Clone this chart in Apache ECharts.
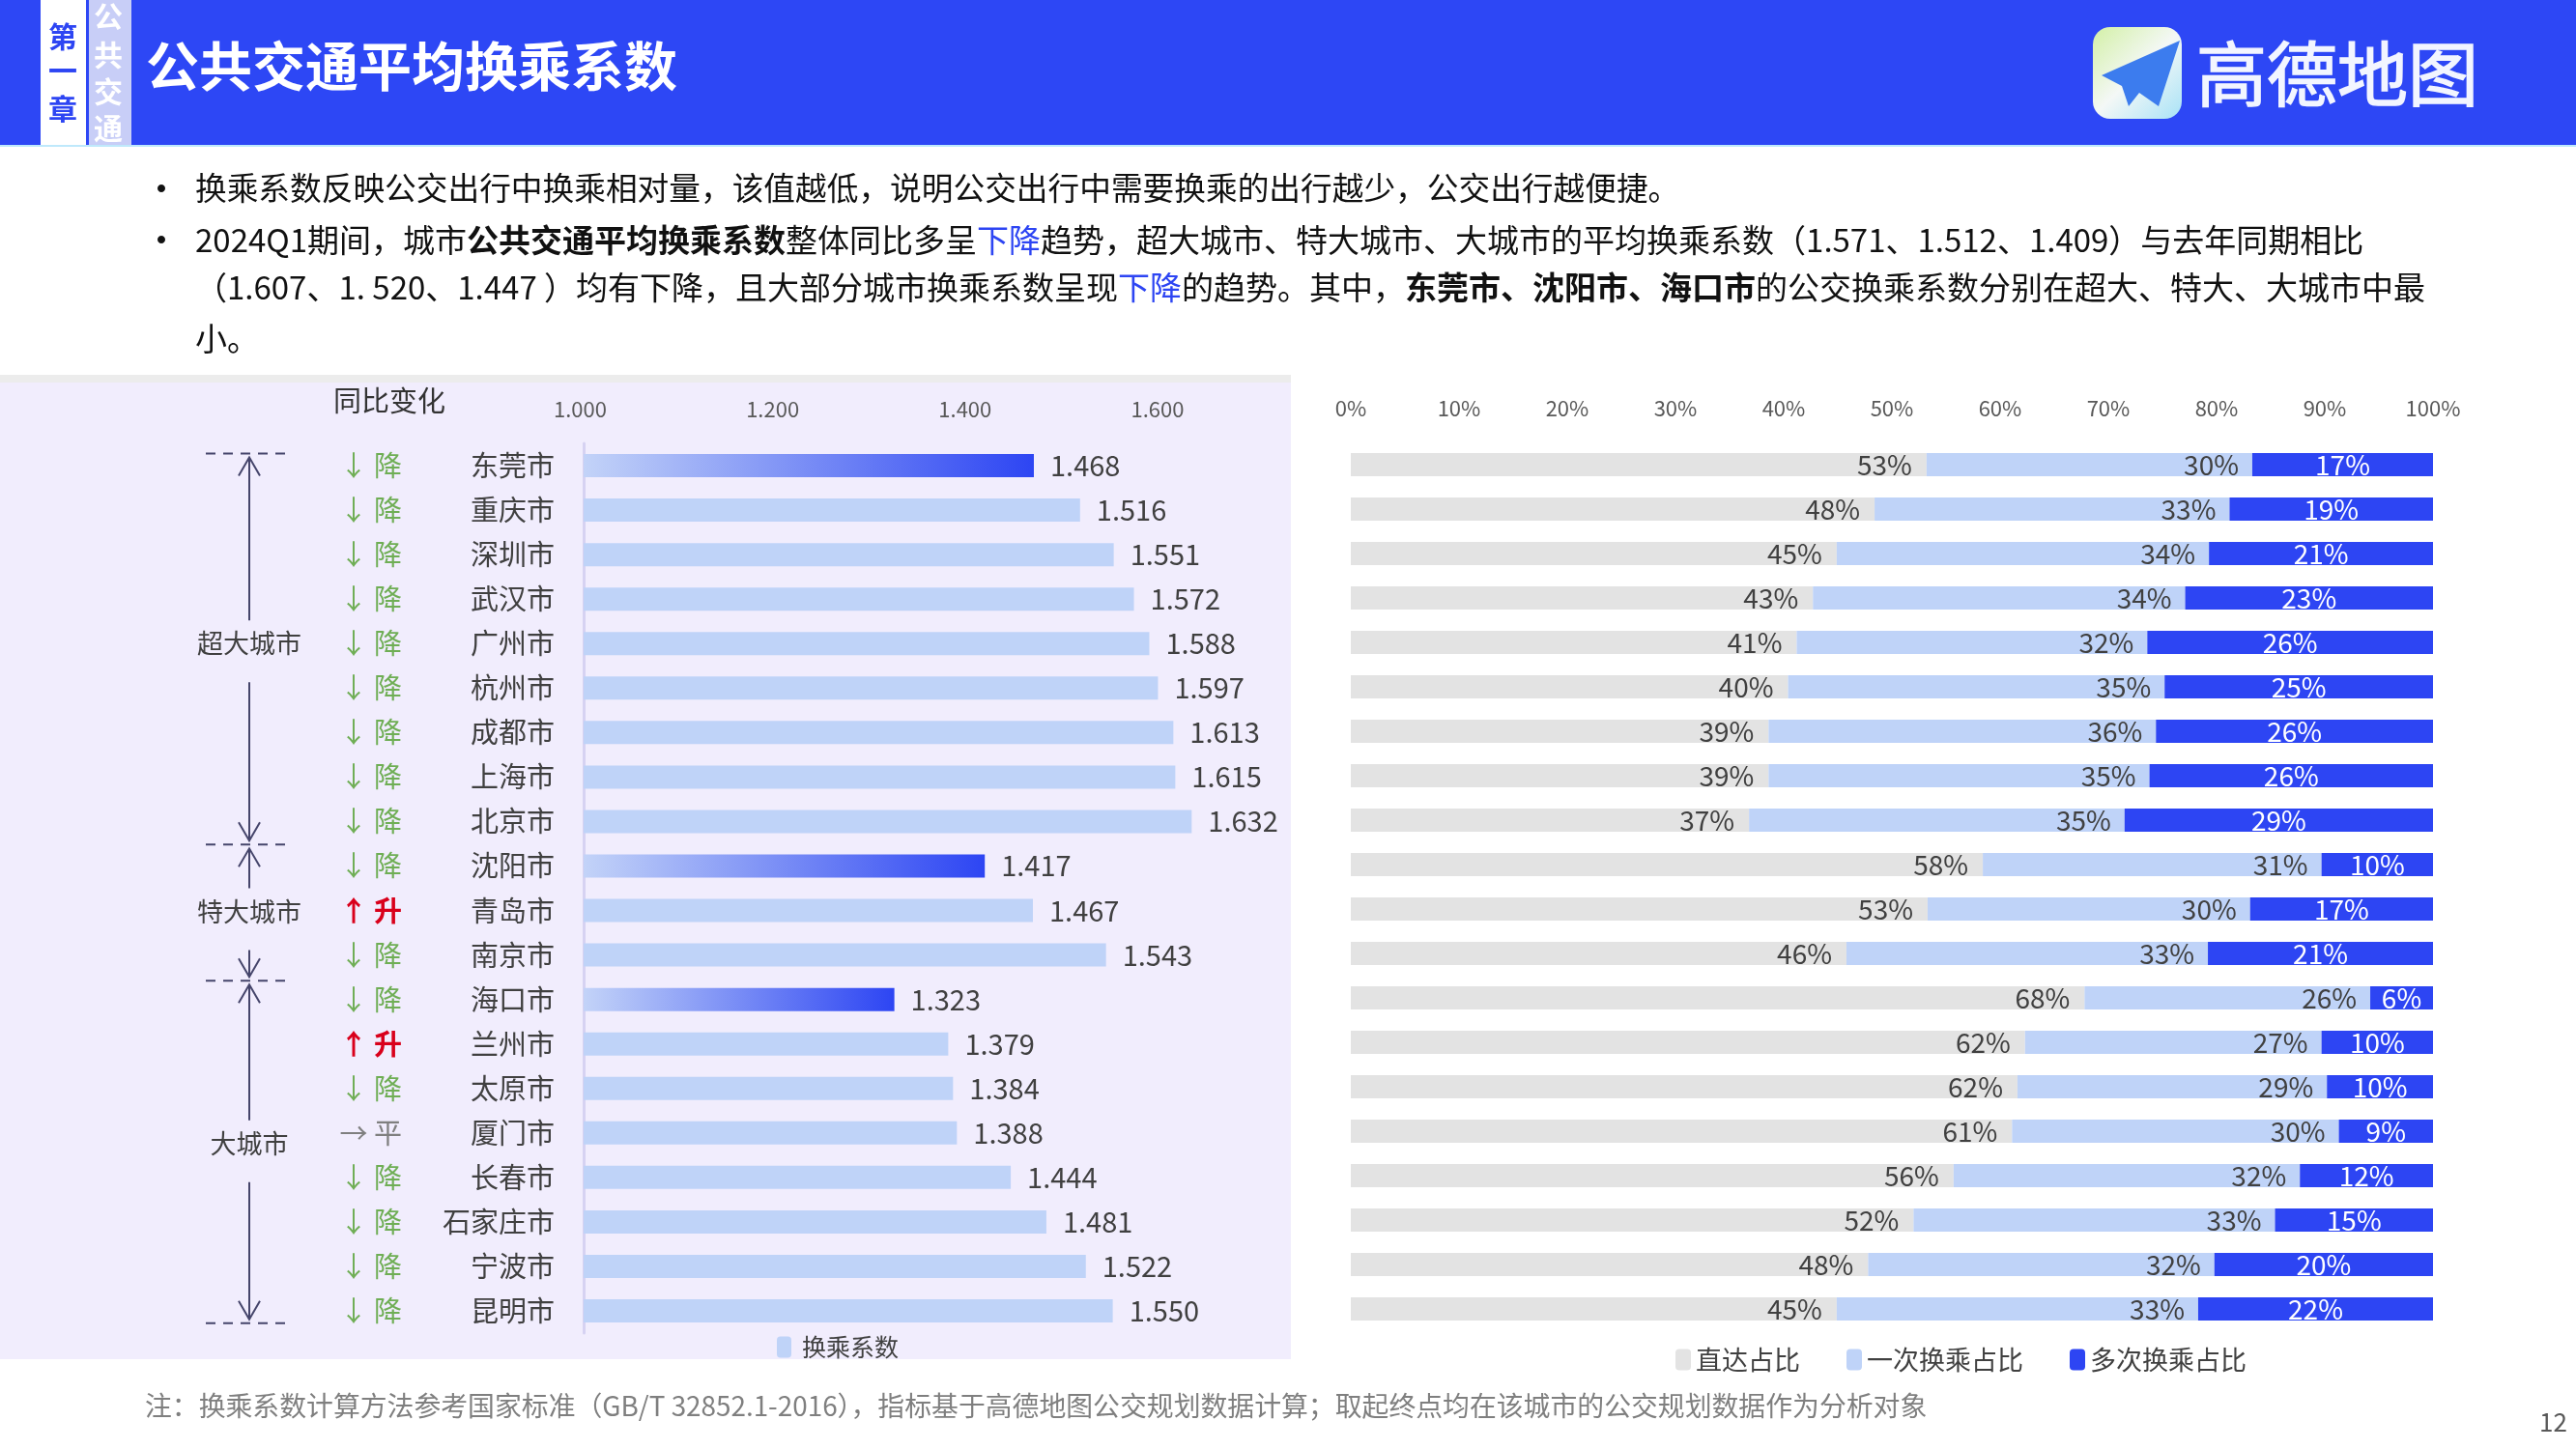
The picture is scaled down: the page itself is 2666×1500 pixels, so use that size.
<!DOCTYPE html>
<html>
<head>
<meta charset="utf-8">
<title>公共交通平均换乘系数</title>
<script src="https://cdn.jsdelivr.net/npm/echarts@6/dist/echarts.min.js"></script>
<style>
  html, body { margin: 0; padding: 0; background: #fff; }
  #main { width: 2666px; height: 1500px; }
</style>
</head>
<body>
<div id="main"></div>
<script>
const FONT = '"Noto Sans CJK SC", "Noto Sans", sans-serif';

const cities = ['东莞市', '重庆市', '深圳市', '武汉市', '广州市', '杭州市', '成都市', '上海市', '北京市', '沈阳市',
  '青岛市', '南京市', '海口市', '兰州市', '太原市', '厦门市', '长春市', '石家庄市', '宁波市', '昆明市'];
const transferCoef = [1.468, 1.516, 1.551, 1.572, 1.588, 1.597, 1.613, 1.615, 1.632, 1.417,
  1.467, 1.543, 1.323, 1.379, 1.384, 1.388, 1.444, 1.481, 1.522, 1.550];
const changes = ['降', '降', '降', '降', '降', '降', '降', '降', '降', '降',
  '升', '降', '降', '升', '降', '平', '降', '降', '降', '降'];
const lowestCities = ['东莞市', '沈阳市', '海口市'];

// 占比：读图估的一位小数，标签取整
const directShare = [53.2, 48.4, 44.9, 42.7, 41.2, 40.4, 38.6, 38.6, 36.8, 58.4,
  53.3, 45.8, 67.8, 62.3, 61.6, 61.1, 55.7, 52.0, 47.8, 44.9];
const onceShare = [30.1, 32.8, 34.4, 34.4, 32.4, 34.8, 35.8, 35.2, 34.7, 31.3,
  29.8, 33.4, 26.4, 27.4, 28.6, 30.2, 32.0, 33.4, 32.0, 33.4];
const multiShare = [16.7, 18.8, 20.7, 22.9, 26.4, 24.8, 25.6, 26.2, 28.5, 10.3,
  16.9, 20.8, 5.8, 10.3, 9.8, 8.7, 12.3, 14.6, 20.2, 21.7];

const groupNames = ['超大城市', '特大城市', '大城市'];
const groupEdges = [-0.27, 8.52, 11.58, 19.28]; // 以行为单位
const groupLabelRows = [4.0, 10.02, 15.24];

const BLUE = '#2d45f3';
const LIGHT = '#bfd3f8';
const GREY = '#e3e3e3';
const changeStyle = { '降': 'd', '升': 'u', '平': 'f' };
const changeArrow = { '降': '↓', '升': '↑', '平': '→' };

const chart = echarts.init(document.getElementById('main'));

const shareLabel = (color, position, distance) => ({
  show: true,
  position: position,
  distance: distance,
  color: color,
  fontSize: 28,
  fontFamily: FONT,
  formatter: p => Math.round(p.value) + '%'
});

const option = {
  animation: false,
  textStyle: { fontFamily: FONT },
  legend: [{
    left: 799,
    top: 1377,
    itemWidth: 15,
    itemHeight: 22,
    itemGap: 6,
    data: ['换乘系数'],
    textStyle: { fontSize: 25, color: '#404040', fontFamily: FONT, padding: [0, 0, 0, 6] }
  }, {
    left: 1729,
    top: 1389,
    itemWidth: 16,
    itemHeight: 22,
    itemGap: 48,
    data: ['直达占比', '一次换乘占比', '多次换乘占比'],
    textStyle: { fontSize: 27, color: '#404040', fontFamily: FONT }
  }],
  grid: [
    { left: 604, top: 459, width: 697, height: 921 },
    { left: 1398, top: 458, width: 1120, height: 920 }
  ],
  xAxis: [{
    type: 'value',
    gridIndex: 0,
    position: 'top',
    min: 1,
    max: 1.7,
    interval: 0.2,
    splitLine: { show: false },
    axisLine: { show: false },
    axisTick: { show: false },
    axisLabel: {
      margin: 24,
      fontSize: 22,
      color: '#595959',
      padding: [0, 7, 0, 0],
      showMaxLabel: false,
      formatter: v => v.toFixed(3)
    }
  }, {
    type: 'value',
    gridIndex: 1,
    position: 'top',
    min: 0,
    max: 100,
    interval: 10,
    splitLine: { show: false },
    axisLine: { show: false },
    axisTick: { show: false },
    axisLabel: { margin: 24, fontSize: 22, color: '#595959', formatter: '{value}%' }
  }],
  yAxis: [{
    type: 'category',
    gridIndex: 0,
    inverse: true,
    data: cities,
    axisTick: { show: false },
    axisLine: { lineStyle: { color: '#d6d2f2', width: 3 } },
    axisLabel: { interval: 0, margin: 30, fontSize: 29, color: '#404040' }
  }, {
    // 同比变化列
    type: 'category',
    gridIndex: 0,
    position: 'left',
    offset: 178,
    inverse: true,
    data: changes,
    axisTick: { show: false },
    axisLine: { show: false },
    axisLabel: {
      interval: 0,
      margin: 10,
      formatter: v => '{' + changeStyle[v] + '|' + changeArrow[v] + ' ' + v + '}',
      rich: {
        d: { color: '#6fae55', fontSize: 29, fontFamily: FONT },
        u: { color: '#d9001b', fontSize: 29, fontFamily: FONT, fontWeight: 'bold' },
        f: { color: '#7f7f7f', fontSize: 29, fontFamily: FONT }
      }
    }
  }, {
    type: 'category',
    gridIndex: 1,
    inverse: true,
    data: cities,
    axisTick: { show: false },
    axisLabel: { show: false },
    axisLine: { show: false }
  }],
  series: [{
    name: '换乘系数',
    type: 'bar',
    xAxisIndex: 0,
    yAxisIndex: 0,
    barWidth: 24,
    itemStyle: { color: LIGHT },
    data: transferCoef.map((v, i) => lowestCities.includes(cities[i]) ? {
      value: v,
      itemStyle: {
        color: new echarts.graphic.LinearGradient(0, 0, 1, 0, [
          { offset: 0, color: '#c3d3f8' },
          { offset: 1, color: BLUE }
        ])
      }
    } : v),
    label: {
      show: true,
      position: 'right',
      distance: 17,
      fontSize: 29,
      color: '#404040',
      fontFamily: FONT,
      formatter: p => p.value.toFixed(3)
    }
  }, {
    name: '直达占比',
    type: 'bar',
    stack: 'share',
    xAxisIndex: 1,
    yAxisIndex: 2,
    barWidth: 24,
    itemStyle: { color: GREY },
    label: shareLabel('#404040', 'insideRight', 15),
    data: directShare
  }, {
    name: '一次换乘占比',
    type: 'bar',
    stack: 'share',
    xAxisIndex: 1,
    yAxisIndex: 2,
    itemStyle: { color: LIGHT },
    label: shareLabel('#404040', 'insideRight', 14),
    data: onceShare
  }, {
    name: '多次换乘占比',
    type: 'bar',
    stack: 'share',
    xAxisIndex: 1,
    yAxisIndex: 2,
    itemStyle: { color: BLUE },
    label: shareLabel('#ffffff', 'inside', 0),
    data: multiShare
  }]
};

chart.setOption(option);

// 页头、正文、分组箭头
const txt = (text, x, y, size, fill, extra) => ({
  type: 'text',
  z: 5,
  style: Object.assign({
    text: text, x: x, y: y, fontSize: size, fontFamily: FONT, fill: fill,
    verticalAlign: 'middle', align: 'left'
  }, extra || {})
});
const rect = (x, y, w, h, fill, z) => ({
  type: 'rect', z: z === undefined ? -1 : z,
  shape: { x: x, y: y, width: w, height: h }, style: { fill: fill }
});
const line = (x1, y1, x2, y2, dash) => ({
  type: 'line', z: 5,
  shape: { x1: x1, y1: y1, x2: x2, y2: y2 },
  style: { stroke: '#45456b', lineWidth: 2, lineDash: dash ? [10, 8] : null }
});
const head = (x, y, dir) => ({
  type: 'polyline', z: 5,
  shape: { points: [[x - 11, y + dir * 19], [x, y], [x + 11, y + dir * 19]] },
  style: { stroke: '#45456b', lineWidth: 2, fill: null }
});

const BODY_SIZE = 33;
const bodyRich = {
  b: { fontWeight: 'bold', fontSize: BODY_SIZE, fontFamily: FONT, fill: '#111111' },
  c: { fontSize: BODY_SIZE, fontFamily: FONT, fill: '#2d45f3' },
  n: { fontSize: BODY_SIZE, fontFamily: FONT, fill: '#111111' },
  m: { fontSize: 32.7, fontFamily: FONT, fill: '#111111' }
};
const bodyLines = [
  ['{m|换乘系数反映公交出行中换乘相对量，该值越低，说明公交出行中需要换乘的出行越少，公交出行越便捷。}', 195],
  ['{n|2024Q1期间，城市}{b|公共交通平均换乘系数}{n|整体同比多呈}{c|下降}{n|趋势，超大城市、特大城市、大城市的平均换乘系数（1.571、1.512、1.409）与去年同期相比}', 248],
  ['{n|（1.607、1. 520、1.447 ）均有下降，且大部分城市换乘系数呈现}{c|下降}{n|的趋势。其中，}{b|东莞市、沈阳市、海口市}{n|的公交换乘系数分别在超大、特大、大城市中最}', 297],
  ['{n|小。}', 350]
];

const elements = [
  rect(0, 0, 2666, 150, '#2d47f5'),
  rect(0, 150, 2666, 2, '#bfe9fb'),
  rect(42, 0, 47, 150, '#ffffff'),
  rect(92, 0, 44, 150, '#c8cef7'),
  rect(0, 388, 1336, 8, '#ececec'),
  rect(0, 396, 1336, 1011, '#f1edfd'),
  txt('公共交通平均换乘系数', 151, 68, 55, '#ffffff', { fontWeight: 'bold' }),
  // logo
  {
    type: 'rect', z: 4,
    shape: { x: 2166, y: 28, width: 92, height: 95, r: 18 },
    style: {
      fill: new echarts.graphic.LinearGradient(0, 0, 1, 1, [
        { offset: 0, color: '#d3f0a6' },
        { offset: 0.5, color: '#f4f8f6' },
        { offset: 1, color: '#a8e2f7' }
      ])
    }
  },
  {
    type: 'polygon', z: 5,
    shape: { points: [[2256, 42], [2175, 78], [2196, 89], [2203, 110], [2214, 96], [2234, 110]] },
    style: { fill: '#3c7cee' }
  },
  txt('高德地图', 2273, 76, 73, '#f2f5ff', { stroke: '#f2f5ff', lineWidth: 1.5 }),
  txt('同比变化', 345, 415, 29, '#333333'),
  txt('注：换乘系数计算方法参考国家标准（GB/T 32852.1-2016），指标基于高德地图公交规划数据计算；取起终点均在该城市的公交规划数据作为分析对象', 150, 1455, 27.85, '#7f7f7f'),
  txt('12', 2628, 1472, 26, '#595959')
];
['第', '一', '章'].forEach((c, i) => {
  elements.push(txt(c, 65, [38, 73, 113][i], 30, BLUE, { fontWeight: 'bold', align: 'center' }));
});
['公', '共', '交', '通'].forEach((c, i) => {
  elements.push(txt(c, 112, [17, 57, 95, 133][i], 30, '#ffffff', { fontWeight: 'bold', align: 'center' }));
});
bodyLines.forEach((l, i) => {
  elements.push(txt(l[0], 202, l[1], BODY_SIZE, '#111111', { rich: bodyRich }));
  if (i < 2) elements.push(txt('•', 148, l[1], 38, '#111111'));
});

// 分组位置跟着分类轴走
const row0 = chart.convertToPixel({ yAxisIndex: 0 }, cities[0]);
const rowStep = chart.convertToPixel({ yAxisIndex: 0 }, cities[1]) - row0;
const rowY = r => row0 + r * rowStep;
const bx = 258;
groupEdges.forEach(e => {
  elements.push(line(bx - 45, rowY(e), bx + 45, rowY(e), true));
});
groupNames.forEach((name, i) => {
  const top = rowY(groupEdges[i]);
  const bottom = rowY(groupEdges[i + 1]);
  const mid = rowY(groupLabelRows[i]);
  elements.push(txt(name, bx, mid, 27, '#404040', { align: 'center' }));
  elements.push(line(bx, top + 4, bx, mid - 24));
  elements.push(head(bx, top + 4, 1));
  elements.push(line(bx, mid + 40, bx, bottom - 4));
  elements.push(head(bx, bottom - 4, -1));
});

chart.setOption({ graphic: { elements: elements } });
</script>
</body>
</html>
